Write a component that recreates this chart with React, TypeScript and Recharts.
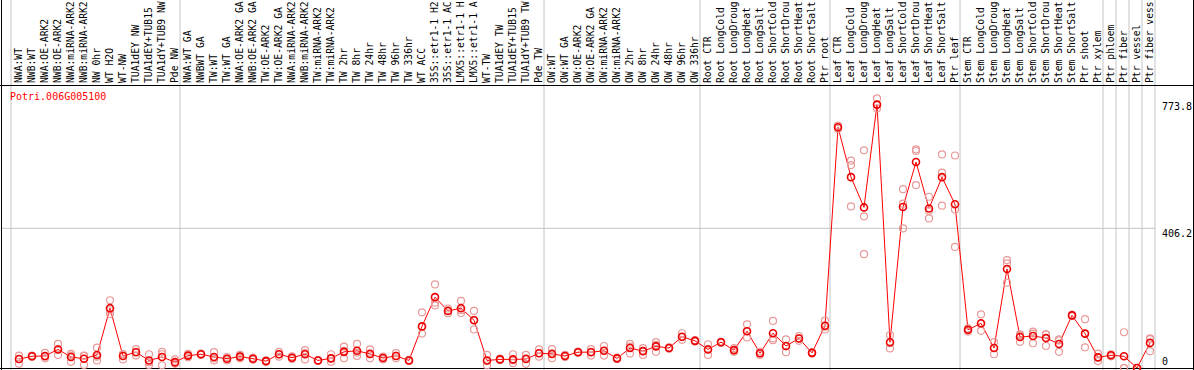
import { ComposedChart, Line, ReferenceLine, XAxis, YAxis } from 'recharts';

const labels = [
  'NWA:WT', 'NWB:WT', 'NWA:OE-ARK2', 'NWB:OE-ARK2', 'NWA:miRNA-ARK2', 'NWB:miRNA-ARK2',
  'NW 0hr', 'WT H2O', 'WT-NW', 'TUA1dEY NW', 'TUA1dEY+TUB15 NW', 'TUA1dY+TUB9 NW', 'Pde NW',
  'NWA:WT GA', 'NWBWT GA', 'TW:WT', 'TW:WT GA', 'NWA:OE-ARK2 GA', 'NWB:OE-ARK2 GA',
  'TW:OE-ARK2', 'TW:OE-ARK2 GA', 'NWA:miRNA-ARK2 GA', 'NWB:miRNA-ARK2 GA', 'TW:miRNA-ARK2',
  'TW:miRNA-ARK2 GA', 'TW 2hr', 'TW 8hr', 'TW 24hr', 'TW 48hr', 'TW 96hr', 'TW 336hr', 'WT ACC',
  '35S::etr1-1 H2O', '35S::etr1-1 ACC', 'LMX5::etr1-1 H2O', 'LMX5::etr1-1 ACC', 'WT-TW',
  'TUA1dEY TW', 'TUA1dEY+TUB15 TW', 'TUA1dY+TUB9 TW', 'Pde TW',
  'OW:WT', 'OW:WT GA', 'OW:OE-ARK2', 'OW:OE-ARK2 GA', 'OW:miRNA-ARK2', 'OW:miRNA-ARK2 GA',
  'OW 2hr', 'OW 8hr', 'OW 24hr', 'OW 48hr', 'OW 96hr', 'OW 336hr',
  'Root CTR', 'Root LongCold', 'Root LongDrought', 'Root LongHeat', 'Root LongSalt',
  'Root ShortCold', 'Root ShortDrought', 'Root ShortHeat', 'Root ShortSalt', 'Ptr root',
  'Leaf CTR', 'Leaf LongCold', 'Leaf LongDrought', 'Leaf LongHeat', 'Leaf LongSalt',
  'Leaf ShortCold', 'Leaf ShortDrought', 'Leaf ShortHeat', 'Leaf ShortSalt', 'Ptr leaf',
  'Stem CTR', 'Stem LongCold', 'Stem LongDrought', 'Stem LongHeat', 'Stem LongSalt',
  'Stem ShortCold', 'Stem ShortDrought', 'Stem ShortHeat', 'Stem ShortSalt', 'Ptr shoot',
  'Ptr xylem', 'Ptr phloem', 'Ptr fiber', 'Ptr vessel', 'Ptr fiber vessel',
];

const means = [
  26, 34, 35, 54, 32, 27, 38, 174, 35, 46,
  22, 32, 17, 36, 40, 32, 27, 33, 27, 20,
  40, 30, 40, 22, 28, 47, 50, 41, 29, 35,
  22, 121, 206, 166, 174, 139, 22, 25, 25, 26,
  43, 41, 35, 46, 46, 50, 28, 58, 49, 63,
  58, 91, 79, 54, 75, 52, 107, 43, 101, 64,
  86, 44, 123, 700, 555, 467, 766, 75, 468, 599,
  464, 555, 476, 111, 130, 58, 288, 90, 93, 87,
  70, 153, 100, 31, 37, 34, 0, 73,
];

// replicate values, highest / middle / lowest of each sample
const repHigh = [
  36, 36, 44, 70, 41, 36, 59, 197, 40, 55,
  40, 47, 25, 41, 42, 46, 32, 38, 30, 22,
  47, 34, 52, 23, 40, 62, 70, 54, 33, 43,
  24, 162, 243, 173, 195, 166, 38, 27, 40, 38,
  54, 55, 38, 48, 55, 64, 30, 70, 58, 75,
  60, 101, 81, 69, 77, 58, 127, 48, 137, 83,
  93, 46, 138, 705, 603, 633, 784, 96, 520, 636,
  498, 621, 618, 115, 156, 75, 314, 98, 106, 98,
  83, 155, 142, 42, 40, 104, 0, 86,
];
const repMid = [
  26, 35, 33, 54, 36, 35, 33, 168, 40, 47,
  17, 40, 14, 36, 40, 28, 27, 33, 27, 20,
  40, 30, 43, 22, 28, 50, 45, 40, 29, 35,
  22, 121, 190, 166, 168, 140, 20, 25, 22, 28,
  43, 41, 35, 46, 47, 50, 28, 62, 50, 67,
  58, 90, 79, 55, 75, 52, 107, 43, 86, 63,
  86, 44, 120, 700, 590, 441, 766, 72, 478, 631,
  457, 568, 461, 111, 128, 58, 304, 95, 100, 98,
  80, 153, 100, 31, 37, 0, 0, 84,
];
const repLow = [
  12, 32, 28, 38, 18, 9, 22, 157, 25, 36,
  9, 8, 12, 31, 38, 22, 22, 28, 24, 18,
  33, 26, 25, 21, 18, 28, 35, 28, 25, 28,
  20, 100, 182, 159, 160, 112, 8, 23, 14, 12,
  33, 28, 32, 44, 36, 36, 26, 42, 38, 47,
  56, 82, 77, 38, 73, 47, 89, 38, 81, 46,
  79, 42, 112, 695, 470, 331, 755, 57, 406, 532,
  435, 472, 352, 106, 108, 40, 248, 76, 72, 64,
  47, 151, 60, 20, 34, 0, 0, 49,
];

const yTicks = [0, 406.2, 773.8];
// last sample of each group; a grey separator follows it
const groupEnds = [-1, 12, 40, 52, 62, 72, 83, 84, 85, 86, 87];

const data = labels.map((label, i) => ({
  idx: i,
  label,
  mean: means[i],
  r1: repHigh[i],
  r2: repMid[i],
  r3: repLow[i],
}));

const FONT = '"DejaVu Sans Mono", monospace';
const W = 1194;
const H = 370;
const Y_MAX = 823;
const PLOT_BOTTOM = 368;
const PLOT_TOP = 85;
const MAX_CHARS = 14; // header only has room for this many

// pixel -> data helpers, only used for the frame lines
const px2x = (px: number) => (px - 19) / 13;
const px2y = (py: number) => ((PLOT_BOTTOM - py) * Y_MAX) / (PLOT_BOTTOM - PLOT_TOP);

const X_MIN = px2x(2);
const X_MAX = px2x(1155);

function LabelTick(props: any) {
  const { x, payload } = props;
  const text = labels[payload.value].slice(0, MAX_CHARS).trimEnd();
  return (
    <text
      x={x}
      y={83}
      dy="0.35em"
      transform={`rotate(-90, ${x}, 83)`}
      fontSize={9.7}
      fontFamily={FONT}
      fill="#000"
    >
      {text}
    </text>
  );
}

function ValueTick(props: any) {
  const { y, payload } = props;
  const v = payload.value as number;
  return (
    <text x={1162} y={v === 0 ? y - 3 : y + 8.5} fontSize={10} fontFamily={FONT} fill="#000">
      {String(v)}
    </text>
  );
}

const repDot = { r: 3.5, stroke: '#e89a9a', strokeWidth: 1.2, fill: 'none' };

export default function App() {
  const top = px2y(0);
  return (
    <div style={{ position: 'absolute', left: 0, top: 0, width: W, height: H, background: '#fff' }}>
      <ComposedChart width={W} height={H} data={data} margin={{ top: 0, right: 0, bottom: 2, left: 2 }}>
        <XAxis
          dataKey="idx"
          type="number"
          orientation="top"
          height={85}
          domain={[X_MIN, X_MAX]}
          ticks={labels.map((_, i) => i)}
          interval={0}
          tick={LabelTick}
          tickLine={false}
          axisLine={false}
        />
        <YAxis
          orientation="right"
          type="number"
          width={39}
          domain={[0, Y_MAX]}
          ticks={yTicks}
          interval={0}
          tick={ValueTick}
          tickLine={false}
          axisLine={false}
        />
        <ReferenceLine y={406.2} stroke="#c4c4c4" strokeWidth={1} ifOverflow="visible" />
        {groupEnds.map((g) => (
          <ReferenceLine
            key={g}
            segment={[
              { x: g + 5 / 13, y: px2y(370) },
              { x: g + 5 / 13, y: top },
            ]}
            stroke="#c4c4c4"
            strokeWidth={1}
            ifOverflow="visible"
          />
        ))}
        <ReferenceLine
          segment={[{ x: px2x(0), y: px2y(85.5) }, { x: px2x(1194), y: px2y(85.5) }]}
          stroke="#000"
          ifOverflow="visible"
        />
        <ReferenceLine
          segment={[{ x: px2x(0), y: px2y(368.5) }, { x: px2x(1194), y: px2y(368.5) }]}
          stroke="#000"
          ifOverflow="visible"
        />
        <ReferenceLine
          segment={[{ x: px2x(1.5), y: px2y(370) }, { x: px2x(1.5), y: top }]}
          stroke="#000"
          ifOverflow="visible"
        />
        <ReferenceLine
          segment={[{ x: px2x(1193.5), y: px2y(370) }, { x: px2x(1193.5), y: top }]}
          stroke="#000"
          ifOverflow="visible"
        />
        <Line dataKey="r1" stroke="none" dot={repDot} activeDot={false} isAnimationActive={false} />
        <Line dataKey="r2" stroke="none" dot={repDot} activeDot={false} isAnimationActive={false} />
        <Line dataKey="r3" stroke="none" dot={repDot} activeDot={false} isAnimationActive={false} />
        <Line
          dataKey="mean"
          type="linear"
          stroke="#ff0000"
          strokeWidth={1}
          dot={{ r: 3.5, stroke: '#ee0000', strokeWidth: 1.6, fill: 'none' }}
          activeDot={false}
          isAnimationActive={false}
        />
      </ComposedChart>
      <div
        style={{
          position: 'absolute',
          left: 10,
          top: 91,
          fontFamily: FONT,
          fontSize: 10,
          lineHeight: '12px',
          color: '#ff0000',
        }}
      >
        Potri.006G005100
      </div>
    </div>
  );
}
